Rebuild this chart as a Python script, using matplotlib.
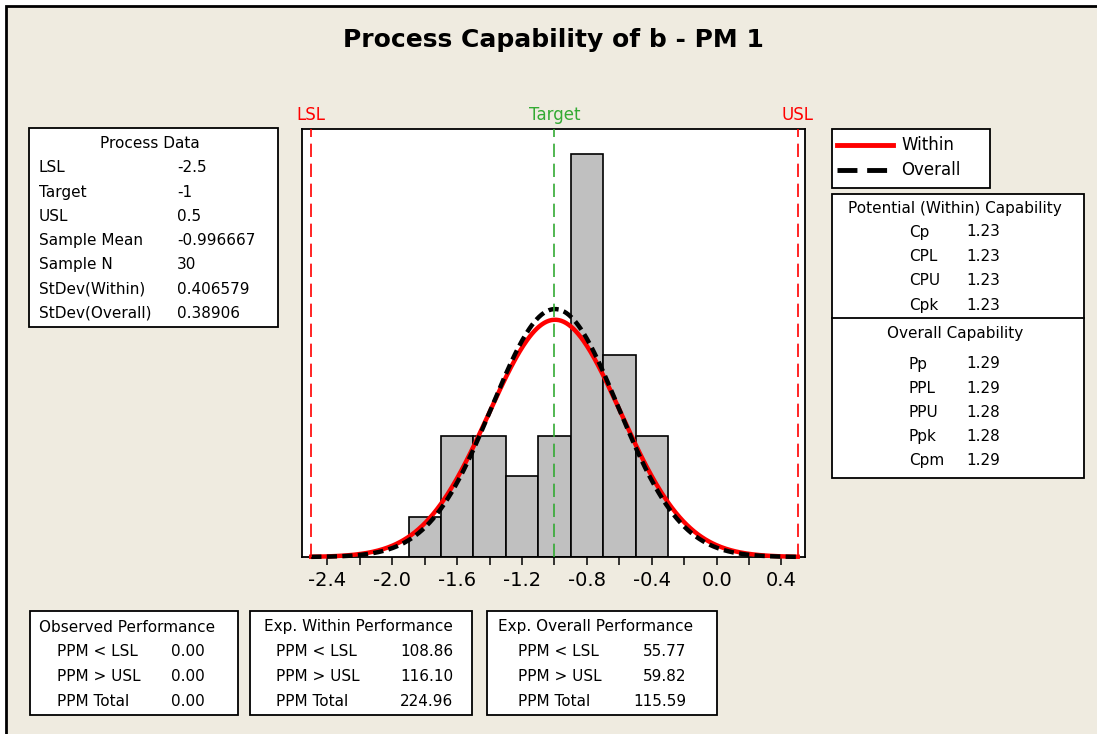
import numpy as np
import matplotlib.pyplot as plt
from matplotlib.patches import Rectangle
from matplotlib.ticker import MultipleLocator

plt.rcParams['font.family'] = ['DejaVu Sans']
plt.rcParams['axes.unicode_minus'] = False

# Datos
lsl, target, usl = -2.5, -1.0, 0.5
media = -0.996667
n = 30
sd_within = 0.406579
sd_overall = 0.38906
bin_edges = [-1.9, -1.7, -1.5, -1.3, -1.1, -0.9, -0.7, -0.5, -0.3]
bin_counts = [1, 3, 3, 2, 3, 10, 5, 3]

process_labels = ['LSL', 'Target', 'USL', 'Sample Mean', 'Sample N', 'StDev(Within)', 'StDev(Overall)']
process_values = ['-2.5', '-1', '0.5', '-0.996667', '30', '0.406579', '0.38906']
within_labels = ['Cp', 'CPL', 'CPU', 'Cpk']
within_values = ['1.23', '1.23', '1.23', '1.23']
overall_labels = ['Pp', 'PPL', 'PPU', 'Ppk', 'Cpm']
overall_values = ['1.29', '1.29', '1.28', '1.28', '1.29']
ppm_labels = ['PPM < LSL', 'PPM > USL', 'PPM Total']
observed_ppm = ['0.00', '0.00', '0.00']
within_ppm = ['108.86', '116.10', '224.96']
overall_ppm = ['55.77', '59.82', '115.59']

W, H = 1097, 734
fondo = '#EFEBE0'


def fx(px):
    return px / W


def fy(py):
    return 1 - py / H


fig = plt.figure(figsize=(W / 100, H / 100), dpi=100, facecolor='white')
fig.add_artist(Rectangle((fx(6), -0.02), 1.05, fy(6) + 0.02, transform=fig.transFigure,
                         facecolor=fondo, edgecolor='black', lw=2, zorder=-10))

ax = fig.add_axes([fx(302), fy(557), fx(805) - fx(302), fy(129) - fy(557)])
ax.set_facecolor('white')

# Histograma
anchos = np.diff(bin_edges)
ax.bar(bin_edges[:-1], bin_counts, width=anchos, align='edge', color='#C0C0C0',
       edgecolor='black', linewidth=1.2, zorder=2)

# Curvas normales (within y overall), escaladas a conteos
xs = np.linspace(lsl, usl, 400)
escala = n * anchos[0]
y_within = escala * np.exp(-0.5 * ((xs - media) / sd_within) ** 2) / (sd_within * np.sqrt(2 * np.pi))
y_overall = escala * np.exp(-0.5 * ((xs - media) / sd_overall) ** 2) / (sd_overall * np.sqrt(2 * np.pi))
ax.plot(xs, y_within, color='red', lw=3.2, zorder=3, clip_on=False)
ax.plot(xs, y_overall, color='black', lw=3.2, ls=(0, (2.3, 1.2)), zorder=4, clip_on=False)

ax.set_xlim(-2.557, 0.545)
ax.set_ylim(0, 10.62)

# Lineas de especificacion
for xv, col, txt in [(lsl, 'red', 'LSL'), (target, '#33AA33', 'Target'), (usl, 'red', 'USL')]:
    ax.axvline(xv, color=col, lw=1.2, ls=(0, (8, 4)), zorder=5)
    ax.text(xv, 1.012, txt, color=col, fontsize=12, ha='center', va='bottom',
            transform=ax.get_xaxis_transform())

ax.xaxis.set_minor_locator(MultipleLocator(0.2))
ax.tick_params(axis='x', which='both', length=6, width=1.1, direction='out', labelsize=14, pad=4)
ax.set_yticks([])
for s in ax.spines.values():
    s.set_linewidth(1.3)
ticks = np.arange(-2.4, 0.41, 0.4)
ax.set_xticks(ticks)
ax.set_xticklabels(['%.1f' % v if abs(v) > 1e-9 else '0.0' for v in ticks])

fig.text(fx(553), fy(40), 'Process Capability of b - PM 1', fontsize=18, fontweight='bold',
         ha='center', va='center')


def caja(x0, y0, x1, y1):
    fig.add_artist(Rectangle((fx(x0), fy(y1)), fx(x1) - fx(x0), fy(y0) - fy(y1),
                             transform=fig.transFigure, facecolor='white', edgecolor='black', lw=1.3))


fs = 11

# Process Data
caja(29, 128, 278, 327)
fig.text(fx(150), fy(143), 'Process Data', fontsize=fs, ha='center', va='center')
for i, (lab, val) in enumerate(zip(process_labels, process_values)):
    yy = 168 + i * 24.2
    fig.text(fx(39), fy(yy), lab, fontsize=fs, va='center')
    fig.text(fx(177), fy(yy), val, fontsize=fs, va='center')

# Leyenda
caja(832, 129, 990, 188)
fig.add_artist(plt.Line2D([fx(837), fx(893)], [fy(145), fy(145)], color='red', lw=3.5,
                          transform=fig.transFigure))
fig.add_artist(plt.Line2D([fx(837), fx(893)], [fy(170), fy(170)], color='black', lw=3.5,
                          ls=(0, (4.1, 2.0)), transform=fig.transFigure))
fig.text(fx(901), fy(145), 'Within', fontsize=12, va='center')
fig.text(fx(901), fy(170), 'Overall', fontsize=12, va='center')

# Capacidad
caja(832, 194, 1084, 478)
fig.add_artist(plt.Line2D([fx(832), fx(1084)], [fy(318), fy(318)], color='black', lw=1.3,
                          transform=fig.transFigure))
fig.text(fx(955), fy(208), 'Potential (Within) Capability', fontsize=fs, ha='center', va='center')
for i, (lab, val) in enumerate(zip(within_labels, within_values)):
    yy = 232 + i * 24.4
    fig.text(fx(909), fy(yy), lab, fontsize=fs, va='center')
    fig.text(fx(966), fy(yy), val, fontsize=fs, va='center')
fig.text(fx(955), fy(334), 'Overall Capability', fontsize=fs, ha='center', va='center')
for i, (lab, val) in enumerate(zip(overall_labels, overall_values)):
    yy = 364 + i * 24.1
    fig.text(fx(909), fy(yy), lab, fontsize=fs, va='center')
    fig.text(fx(966), fy(yy), val, fontsize=fs, va='center')

# Cajas de rendimiento
bloques = [
    (30, 238, 39, 57, 205, 'Observed Performance', observed_ppm),
    (250, 472, 264, 276, 453, 'Exp. Within Performance', within_ppm),
    (487, 717, 498, 518, 686, 'Exp. Overall Performance', overall_ppm),
]
for x0, x1, xh, xl, xv, titulo, vals in bloques:
    caja(x0, 611, x1, 715)
    fig.text(fx(xh), fy(627), titulo, fontsize=fs, va='center')
    for i, (lab, val) in enumerate(zip(ppm_labels, vals)):
        yy = 652 + i * 24.5
        fig.text(fx(xl), fy(yy), lab, fontsize=fs, va='center')
        fig.text(fx(xv), fy(yy), val, fontsize=fs, va='center', ha='right')

fig.savefig('out.png', dpi=100, facecolor=fig.get_facecolor())
